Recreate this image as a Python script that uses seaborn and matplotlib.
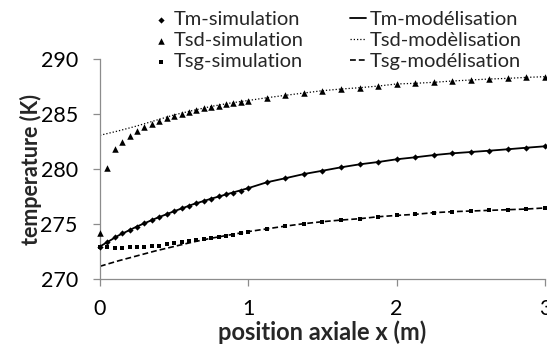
import numpy as np
import pandas as pd
import matplotlib
matplotlib.use("Agg")
import matplotlib.pyplot as plt
import seaborn as sns

# positions axiales (m) : pas fin jusqu'a 1 m puis pas de 0.125 m
x_sim = [0.0, 0.05, 0.1, 0.15, 0.2, 0.25, 0.3, 0.35, 0.4, 0.45, 0.5,
         0.55, 0.6, 0.65, 0.7, 0.75, 0.8, 0.85, 0.9, 0.95, 1.0,
         1.125, 1.25, 1.375, 1.5, 1.625, 1.75, 1.875, 2.0,
         2.125, 2.25, 2.375, 2.5, 2.625, 2.75, 2.875, 3.0]

tm_sim = [272.95, 273.43, 273.83, 274.2, 274.5, 274.8, 275.13, 275.4, 275.68, 275.95, 276.2,
          276.47, 276.7, 276.95, 277.16, 277.34, 277.55, 277.73, 277.9, 278.07, 278.3,
          278.83, 279.2, 279.58, 279.88, 280.19, 280.46, 280.67, 280.92,
          281.1, 281.3, 281.46, 281.58, 281.7, 281.83, 281.97, 282.1]

tsd_sim = [274.2, 280.1, 281.83, 282.5, 283.06, 283.5, 283.88, 284.15, 284.4, 284.64, 284.88,
           285.06, 285.24, 285.4, 285.55, 285.67, 285.79, 285.94, 286.03, 286.12, 286.24,
           286.51, 286.73, 286.94, 287.15, 287.3, 287.42, 287.57, 287.76,
           287.82, 287.91, 288.03, 288.12, 288.21, 288.27, 288.36, 288.42]

tsg_sim = [272.95, 272.92, 272.9, 272.9, 272.92, 272.95, 272.98, 273.02, 273.08, 273.25, 273.32,
           273.4, 273.5, 273.58, 273.67, 273.76, 273.86, 273.96, 274.08, 274.2, 274.35,
           274.6, 274.85, 275.07, 275.25, 275.4, 275.52, 275.7, 275.82,
           275.92, 276.07, 276.16, 276.22, 276.28, 276.34, 276.4, 276.5]

# modelisation
x_mod = [0.0, 0.125, 0.25, 0.375, 0.5, 0.625, 0.75, 0.875, 1.0,
         1.125, 1.25, 1.375, 1.5, 1.625, 1.75, 1.875, 2.0,
         2.125, 2.25, 2.375, 2.5, 2.625, 2.75, 2.875, 3.0]

tm_mod = [273.0, 274.0, 274.82, 275.54, 276.2, 276.82, 277.34, 277.82, 278.3,
          278.83, 279.2, 279.58, 279.88, 280.19, 280.46, 280.67, 280.92,
          281.1, 281.3, 281.46, 281.58, 281.7, 281.83, 281.97, 282.1]

tsd_mod = [283.1, 283.5, 283.95, 284.45, 284.95, 285.35, 285.72, 286.02, 286.26,
           286.51, 286.73, 286.94, 287.15, 287.3, 287.42, 287.57, 287.76,
           287.82, 287.91, 288.03, 288.12, 288.21, 288.27, 288.36, 288.42]

tsg_mod = [271.2, 271.7, 272.15, 272.6, 273.0, 273.4, 273.75, 274.05, 274.35,
           274.6, 274.85, 275.07, 275.25, 275.4, 275.52, 275.7, 275.82,
           275.92, 276.07, 276.16, 276.22, 276.28, 276.34, 276.4, 276.5]

sns.set_style("white")
plt.rcParams['font.family'] = ['Lato', 'DejaVu Sans']

fig = plt.figure(figsize=(5.47, 3.46), dpi=100)
ax = fig.add_axes([0.1828, 0.1922, 0.8135, 0.6364])

# simulations (points)
sns.scatterplot(x=x_sim, y=tm_sim, marker='D', s=10, color='black', linewidth=0,
                clip_on=False, ax=ax, label='Tm-simulation', zorder=3)
sns.scatterplot(x=x_sim, y=tsd_sim, marker='^', s=22, color='black', linewidth=0,
                clip_on=False, ax=ax, label='Tsd-simulation', zorder=3)
sns.scatterplot(x=x_sim, y=tsg_sim, marker='s', s=12, color='black', linewidth=0,
                clip_on=False, ax=ax, label='Tsg-simulation', zorder=3)

# modelisation (courbes)
sns.lineplot(x=x_mod, y=tm_mod, color='black', lw=1.3, ax=ax, label='Tm-modélisation')
sns.lineplot(x=x_mod, y=tsd_mod, color='black', lw=0.9, linestyle=(0, (1, 1.6)),
             ax=ax, label='Tsd-modèlisation')
sns.lineplot(x=x_mod, y=tsg_mod, color='black', lw=1.2, linestyle=(0, (3.5, 1.8)),
             ax=ax, label='Tsg-modélisation')

ax.set_xlim(0, 3)
ax.set_ylim(270, 290)
ax.set_xticks([0, 1, 2, 3])
ax.set_yticks([270, 275, 280, 285, 290])

for s in ['top', 'right']:
    ax.spines[s].set_visible(False)
for s in ['left', 'bottom']:
    ax.spines[s].set_color('#8c8c8c')
    ax.spines[s].set_linewidth(0.9)
ax.tick_params(axis='both', direction='out', length=5, width=0.9, color='#8c8c8c',
               labelsize=15.5, labelcolor='black')
ax.tick_params(axis='y', left=True, pad=11)
ax.tick_params(axis='x', bottom=True, pad=9)

ax.set_xlabel('position axiale x (m)', fontsize=17, fontweight='bold', labelpad=1)
ax.set_ylabel('temperature (K)', fontsize=15.5, fontweight='bold', labelpad=-1)

handles, labels = ax.get_legend_handles_labels()
ax.get_legend().remove()
fig.legend(handles, labels, ncol=2, loc='upper left', bbox_to_anchor=(0.262, 0.997),
           frameon=False, fontsize=14.5, handlelength=0.8, handletextpad=0.2,
           columnspacing=2.3, labelspacing=0.2, borderpad=0, markerscale=1.0)

fig.savefig('out.png', dpi=100)
